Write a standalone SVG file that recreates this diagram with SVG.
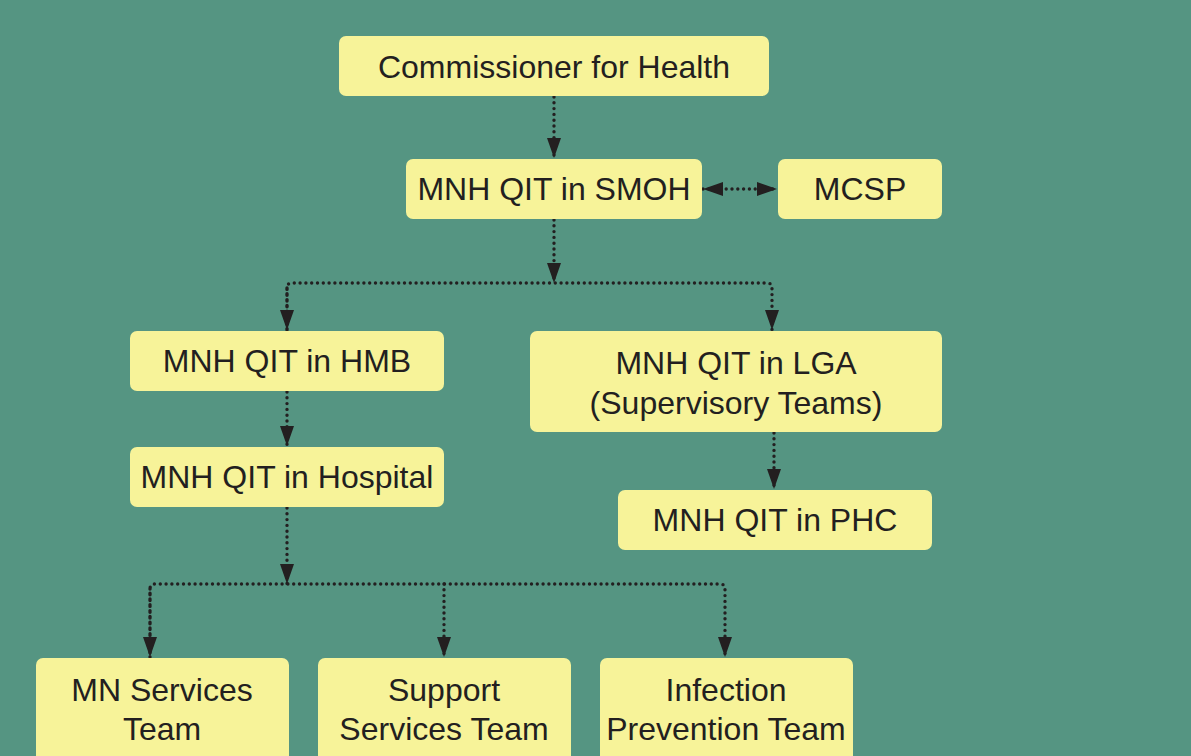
<svg xmlns="http://www.w3.org/2000/svg" width="1191" height="756" viewBox="0 0 1191 756">
<defs>
<style>
.box{fill:#f7f399;}
.t{font-family:"Liberation Sans",Arial,sans-serif;font-size:32px;fill:#231f20;text-anchor:middle;}
.c{fill:none;stroke:#231f20;stroke-width:3.4;stroke-linecap:round;stroke-dasharray:0 5.8;}
</style>
<marker id="ah" markerUnits="userSpaceOnUse" markerWidth="20" markerHeight="16" refX="20" refY="8" orient="auto-start-reverse">
<path d="M0,1 L20,8 L0,15 z" fill="#231f20"/>
</marker>
</defs>
<rect width="1191" height="756" fill="#559582"/>
<g id="connectors">
<path class="c" d="M554,97 V158" marker-end="url(#ah)"/>
<path class="c" d="M703,189 H777" marker-start="url(#ah)" marker-end="url(#ah)"/>
<path class="c" d="M554,220 V283" marker-end="url(#ah)"/>
<path class="c" d="M287,330 V288 Q287,283 292,283 H767 Q772,283 772,288 V330" marker-end="url(#ah)"/>
<path class="c" d="M287,288 V330" marker-end="url(#ah)"/>
<path class="c" d="M287,392 V446" marker-end="url(#ah)"/>
<path class="c" d="M774,433 V489" marker-end="url(#ah)"/>
<path class="c" d="M287,508 V584" marker-end="url(#ah)"/>
<path class="c" d="M150,657 V589 Q150,584 155,584 H720 Q725,584 725,589 V657" marker-end="url(#ah)"/>
<path class="c" d="M150,589 V657" marker-end="url(#ah)"/>
<path class="c" d="M444,584 V657" marker-end="url(#ah)"/>
</g>
<g id="commissioner"><rect class="box" x="339" y="36" width="430" height="60" rx="7"/><text class="t" x="554" y="78">Commissioner for Health</text></g>
<g id="smoh"><rect class="box" x="406" y="159" width="296" height="60" rx="7"/><text class="t" x="554" y="200">MNH QIT in SMOH</text></g>
<g id="mcsp"><rect class="box" x="778" y="159" width="164" height="60" rx="7"/><text class="t" x="860" y="200">MCSP</text></g>
<g id="hmb"><rect class="box" x="130" y="331" width="314" height="60" rx="7"/><text class="t" x="287" y="372">MNH QIT in HMB</text></g>
<g id="lga"><rect class="box" x="530" y="331" width="412" height="101" rx="7"/><text class="t" x="736" y="374">MNH QIT in LGA</text><text class="t" x="736" y="414">(Supervisory Teams)</text></g>
<g id="hospital"><rect class="box" x="130" y="447" width="314" height="60" rx="7"/><text class="t" x="287" y="488">MNH QIT in Hospital</text></g>
<g id="phc"><rect class="box" x="618" y="490" width="314" height="60" rx="7"/><text class="t" x="775" y="531">MNH QIT in PHC</text></g>
<g id="mn-services"><rect class="box" x="36" y="658" width="253" height="110" rx="7"/><text class="t" x="162" y="701">MN Services</text><text class="t" x="162" y="740">Team</text></g>
<g id="support-services"><rect class="box" x="318" y="658" width="253" height="110" rx="7"/><text class="t" x="444" y="701">Support</text><text class="t" x="444" y="740">Services Team</text></g>
<g id="infection-prevention"><rect class="box" x="600" y="658" width="253" height="110" rx="7"/><text class="t" x="726" y="701">Infection</text><text class="t" x="726" y="740">Prevention Team</text></g>
</svg>
